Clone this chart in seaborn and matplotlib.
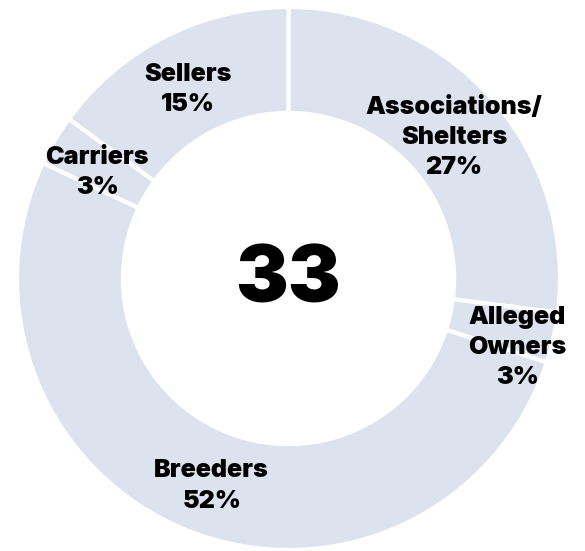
import numpy as np
import seaborn as sns
import matplotlib.pyplot as plt

# Share of the 33 cases by reporter type, clockwise from the top
categories = ["Associations/\nShelters", "Alleged\nOwners", "Breeders", "Carriers", "Sellers"]
shares = [27, 3, 52, 3, 15]
total_cases = 33

sns.set_theme(style="white")
plt.rcParams['font.family'] = ['Inter', 'DejaVu Sans']

ring_color = "#dce3ef"

fig = plt.figure(figsize=(5.85, 5.51), dpi=100)
ax = fig.add_axes([0, 0, 1, 1])

wedges, _ = ax.pie(shares, startangle=90, counterclock=False,
                   colors=[ring_color] * len(shares),
                   wedgeprops=dict(width=0.39, edgecolor="white", linewidth=3))

# labels sit in the middle of each wedge, with small hand nudges
label_r = [0.80, 0.88, 0.815, 0.805, 0.79]
label_nudge = [-1.0, -4.2, 1.3, 1.7, 1.0]
for w, name, pct, r, nd in zip(wedges, categories, shares, label_r, label_nudge):
    ang = np.deg2rad((w.theta1 + w.theta2) / 2 + nd)
    ax.text(r * np.cos(ang), r * np.sin(ang), f"{name}\n{pct}%",
            ha="center", va="center", fontsize=18, fontweight=900,
            linespacing=1.4, color="black")

ax.text(0, -0.012, str(total_cases), ha="center", va="center",
        fontsize=57, fontweight=900, color="black")

ax.set_xlim(-288.5 / 271.5, (585 - 288.5) / 271.5)
ax.set_ylim(-(551 - 278.5) / 271.5, 278.5 / 271.5)
ax.set_aspect("auto")
ax.axis("off")

plt.savefig("out.png", dpi=100)
